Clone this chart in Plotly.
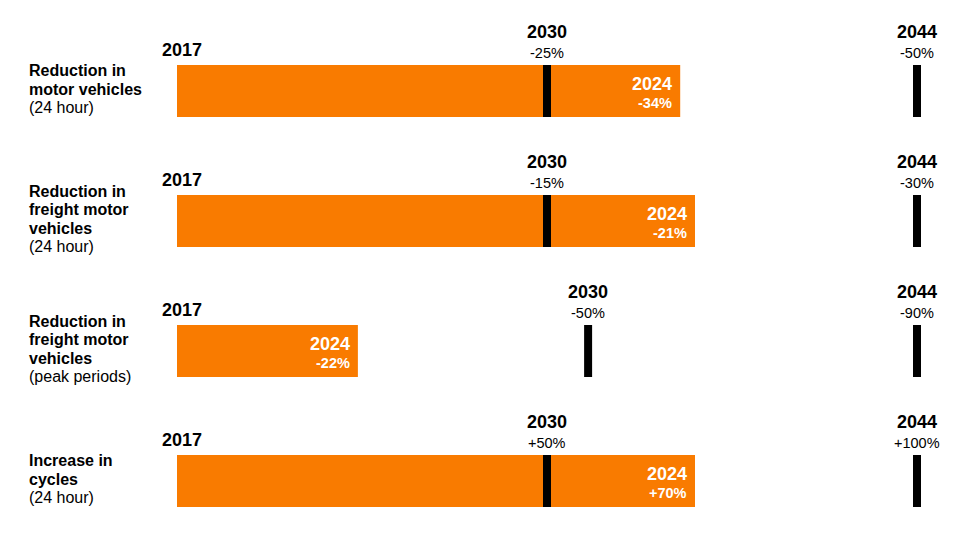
import plotly.graph_objects as go

# ---- data ----
row_labels = [
    ["Reduction in", "motor vehicles", "(24 hour)"],
    ["Reduction in", "freight motor", "vehicles", "(24 hour)"],
    ["Reduction in", "freight motor", "vehicles", "(peak periods)"],
    ["Increase in", "cycles", "(24 hour)"],
]
target_2030 = [-25, -15, -50, 50]
target_2044 = [-50, -30, -90, 100]
actual_2024 = [-34, -21, -22, 70]
year_start = "2017"
year_actual = "2024"
year_mid = "2030"
year_end = "2044"

ORANGE = "#F97B00"
FONT = "Liberation Sans, Arial, sans-serif"

rows = list(range(len(row_labels)))
prog_2024 = [a / t for a, t in zip(actual_2024, target_2044)]
prog_2030 = [m / t for m, t in zip(target_2030, target_2044)]
prog_2044 = [1.0 for _ in target_2044]

W, H = 955, 559
X0PX, SCALE = 177, 740          # pixel of progress 0 and pixels per unit
ROW0PX, ROWPX = 91, 130         # pixel of first row centre, pixels per row
BAR_H = 52 / ROWPX
MARK_W = 8 / SCALE

fig = go.Figure()
fig.add_trace(go.Bar(orientation="h", y=rows, x=prog_2024, base=0, width=BAR_H,
                     marker=dict(color=ORANGE, line=dict(width=0)), hoverinfo="skip"))
for prog in (prog_2030, prog_2044):
    fig.add_trace(go.Bar(orientation="h", y=rows, x=[MARK_W] * len(rows),
                         base=[p - MARK_W / 2 for p in prog], width=BAR_H,
                         marker=dict(color="black", line=dict(width=0)), hoverinfo="skip"))

ann = []
def add(text, x, y, size, color="black", bold=False, xanchor="center", xshift=0, yshift=0, xref="x"):
    ann.append(dict(text=f"<b>{text}</b>" if bold else text, x=x, y=y, xref=xref, yref="y",
                    xanchor=xanchor, yanchor="middle", showarrow=False,
                    xshift=xshift, yshift=yshift,
                    font=dict(family=FONT, size=size, color=color)))

def pct(v):
    return f"{v:+d}%"

for i in rows:
    # left labels
    lines = row_labels[i]
    n = len(lines)
    for k, line in enumerate(lines):
        ys = 2 + (n - 1) / 2 * 18.5 - k * 18.5
        add(line, 27 / W, i, 16, bold=(k < n - 1), xanchor="left", xshift=0, yshift=ys, xref="paper")
    # 2017
    add(year_start, 0, i, 18, bold=True, xshift=5, yshift=41)
    # 2030
    add(year_mid, prog_2030[i], i, 18, bold=True, yshift=59)
    add(pct(target_2030[i]), prog_2030[i], i, 14.5, yshift=38)
    # 2044
    add(year_end, prog_2044[i], i, 18, bold=True, yshift=59)
    add(pct(target_2044[i]), prog_2044[i], i, 14.5, yshift=38)
    # 2024 inside bar
    add(year_actual, prog_2024[i], i, 18, color="white", bold=True, xanchor="right", xshift=-6, yshift=7)
    add(pct(actual_2024[i]), prog_2024[i], i, 14.5, color="white", bold=True, xanchor="right", xshift=-6, yshift=-12.3)

fig.update_layout(
    width=W, height=H, margin=dict(l=0, r=0, t=0, b=0),
    paper_bgcolor="white", plot_bgcolor="white",
    barmode="overlay", showlegend=False,
    xaxis=dict(range=[-X0PX / SCALE, (W - X0PX) / SCALE], visible=False, fixedrange=True),
    yaxis=dict(range=[(H - ROW0PX) / ROWPX, -ROW0PX / ROWPX], visible=False, fixedrange=True),
    annotations=ann,
)
fig.write_html("out.html", config={"displayModeBar": False})
